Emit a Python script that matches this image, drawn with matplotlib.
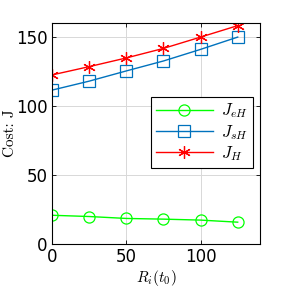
import matplotlib
matplotlib.use("Agg")
import matplotlib.pyplot as plt

matplotlib.rcParams["mathtext.fontset"] = "cm"

# data
r0 = [0, 25, 50, 75, 100, 125]
j_eh = [20.8, 19.9, 18.5, 18.0, 17.3, 15.8]
j_sh = [111.4, 117.9, 125.3, 132.5, 140.9, 149.8]
j_h = [122.4, 128.4, 134.7, 141.6, 149.8, 158.1]

fig = plt.figure(figsize=(2.88, 2.88), dpi=100)
ax = fig.add_axes([52 / 288, 1 - 244 / 288, 208 / 288, 221 / 288])

ax.plot(r0, j_eh, color="#00ff00", lw=1, marker="o", ms=8, mfc="none",
        mew=0.9, label=r"$J_{eH}$")
ax.plot(r0, j_sh, color="#0072bd", lw=1, marker="s", ms=8, mfc="none",
        mew=0.9, label=r"$J_{sH}$")
ax.plot(r0, j_h, color="#ff0000", lw=1, marker=(6, 2, 0), ms=9,
        mew=0.9, label=r"$J_H$")

ax.set_xlim(0, 140)
ax.set_ylim(0, 160)
ax.set_xticks([0, 50, 100])
ax.set_yticks([0, 50, 100, 150])
ax.grid(True, color="#d8d8d8", lw=0.7)
ax.set_axisbelow(True)
ax.tick_params(direction="in", top=True, right=True, labelsize=12, length=3,
               width=0.6, pad=3)
for s in ax.spines.values():
    s.set_linewidth(0.8)

ax.set_xlabel(r"$R_i(t_0)$", fontsize=11, labelpad=1)
ax.set_ylabel("Cost: J", fontsize=11, fontfamily="cmr10")
ax.yaxis.set_label_coords(-0.17, 0.5)

leg = ax.legend(loc="center right", bbox_to_anchor=(0.966, 0.505),
                borderaxespad=0, fontsize=12, fancybox=False, framealpha=1,
                edgecolor="black", handlelength=3.4, borderpad=0.3,
                labelspacing=0.15, handletextpad=0.5)
leg.get_frame().set_linewidth(0.8)

fig.savefig("out.png", dpi=100)
